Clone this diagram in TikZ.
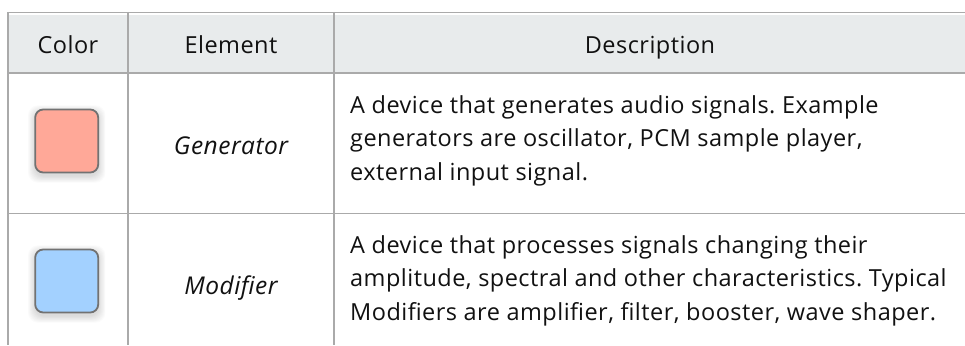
\documentclass[tikz,border=0pt]{standalone}
\usepackage{fontspec}
\setmainfont[LetterSpace=2]{Open Sans}
\frenchspacing
\definecolor{rulegray}{HTML}{AAAAAA}
\definecolor{headfill}{HTML}{E8EBEC}
\definecolor{genfill}{HTML}{FFA898}
\definecolor{modfill}{HTML}{A3D1FF}
\definecolor{swatchedge}{HTML}{727272}
\definecolor{ink}{HTML}{111111}

\begin{document}
\begin{tikzpicture}[x=1pt,y=-1pt,
  rulestyle/.style={draw=rulegray, line width=1.8pt},
  headtext/.style={anchor=base, inner sep=0pt, text=ink, font=\fontsize{23.5}{27}\selectfont},
  elemtext/.style={anchor=base, inner sep=0pt, text=ink, font=\fontsize{24.5}{27}\selectfont\itshape},
  desctext/.style={anchor=base west, inner sep=0pt, text=ink, font=\fontsize{23.5}{27}\selectfont},
  swatch/.style={draw=swatchedge, line width=1.8pt, rounded corners=8pt,
    minimum width=63pt, minimum height=63pt, inner sep=0pt}]
\useasboundingbox (0,0) rectangle (965,345);

% header band
\fill[headfill] (9,14.6) rectangle (965,72);

% table rules
\draw[rulestyle] (7.4,12.6) -- (965,12.6);
\draw[rulestyle] (7.4,73) -- (965,73);
\draw[rulestyle] (7.4,213.5) -- (965,213.5);
\draw[rulestyle] (8.3,12) -- (8.3,345);
\draw[rulestyle] (128,12) -- (128,345);
\draw[rulestyle] (334,12) -- (334,345);

% header labels
\node[headtext] (hcolor) at (68,53.3) {Color};
\node[headtext] (helem) at (231,53.3) {Element};
\node[headtext] (hdesc) at (650,53.3) {Description};

% soft shadows under the colour swatches
\foreach \yc in {141,281}{
  \foreach \s in {1,...,9}{
    \fill[black, opacity=0.016, rounded corners=10pt]
      (66.7-31.5-\s*0.8, \yc+3-31.5-\s*0.8) rectangle (66.7+31.5+\s*0.8, \yc+3+31.5+\s*0.8);
  }
}

% colour swatches
\node[swatch, fill=genfill] (gen) at (66.7,141) {};
\node[swatch, fill=modfill] (mod) at (66.7,281) {};

% element names
\node[elemtext] (egen) at (231,154.3) {Generator};
\node[elemtext] (emod) at (231,294.3) {Modifier};

% descriptions
\node[desctext] (d1a) at (350,113.3) {A device that generates audio signals. Example};
\node[desctext] (d1b) at (350,146.8) {generators are oscillator, PCM sample player,};
\node[desctext] (d1c) at (350,180.3) {external input signal.};
\node[desctext] (d2a) at (350,253.3) {A device that processes signals changing their};
\node[desctext] (d2b) at (350,286.8) {amplitude, spectral and other characteristics. Typical};
\node[desctext] (d2c) at (350,320.3) {Modifiers are amplifier, filter, booster, wave shaper.};
\end{tikzpicture}
\end{document}
